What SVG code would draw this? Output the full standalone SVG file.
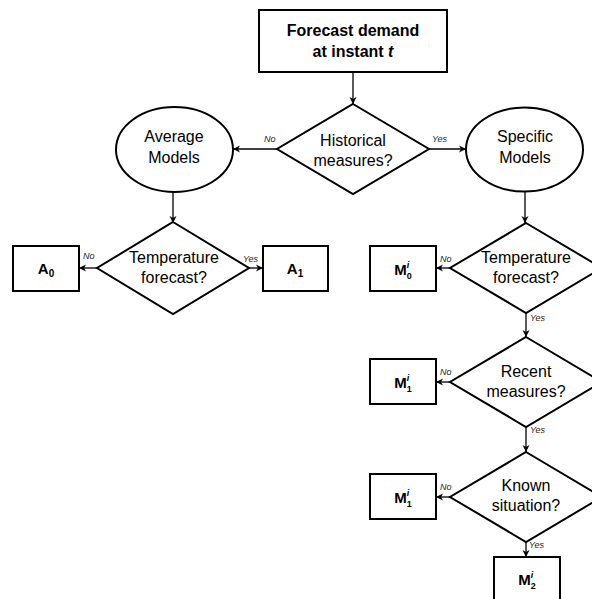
<svg xmlns="http://www.w3.org/2000/svg" width="592" height="599" viewBox="0 0 592 599">
<defs>
<marker id="arr" markerUnits="userSpaceOnUse" markerWidth="8" markerHeight="8" refX="7" refY="4" orient="auto">
<path d="M0,0.5 L7,4 L0,7.5 L2,4 z" fill="#000"/>
</marker>
<style>
.shape{fill:#fff;stroke:#000;stroke-width:2}
.conn{fill:none;stroke:#000;stroke-width:1.3;marker-end:url(#arr)}
.t{font-family:"Liberation Sans",Arial,sans-serif;font-size:16px;fill:#000;text-anchor:middle}
.b{font-family:"Liberation Sans",Arial,sans-serif;font-weight:bold;font-size:15px;fill:#000;text-anchor:middle}
.lbl{font-family:"Liberation Sans",Arial,sans-serif;font-style:italic;font-size:9px;fill:#222}
.sub{font-size:10px}
.s9{font-size:9px}
</style>
</defs>
<rect width="592" height="599" fill="#fff"/>
<g id="connectors">
<line class="conn" x1="353" y1="72" x2="353" y2="104"/>
<line class="conn" x1="277" y1="149" x2="233" y2="149"/>
<line class="conn" x1="429" y1="149" x2="466" y2="149"/>
<line class="conn" x1="173" y1="192" x2="173" y2="223"/>
<line class="conn" x1="97" y1="268" x2="79" y2="268"/>
<line class="conn" x1="249" y1="268" x2="263" y2="268"/>
<line class="conn" x1="525" y1="191" x2="525" y2="223"/>
<line class="conn" x1="450" y1="268" x2="436" y2="268"/>
<line class="conn" x1="526" y1="313" x2="526" y2="337"/>
<line class="conn" x1="450" y1="382" x2="436" y2="382"/>
<line class="conn" x1="526" y1="427" x2="526" y2="452"/>
<line class="conn" x1="450" y1="497" x2="436" y2="497"/>
<line class="conn" x1="526" y1="542" x2="526" y2="557"/>
<text class="lbl" x="264" y="142">No</text>
<text class="lbl" x="432" y="142">Yes</text>
<text class="lbl" x="83" y="259">No</text>
<text class="lbl" x="243" y="262">Yes</text>
<text class="lbl" x="440" y="262">No</text>
<text class="lbl" x="530" y="321">Yes</text>
<text class="lbl" x="440" y="375">No</text>
<text class="lbl" x="530" y="433">Yes</text>
<text class="lbl" x="440" y="490">No</text>
<text class="lbl" x="529" y="548">Yes</text>
</g>
<g id="start">
<rect class="shape" x="259" y="10" width="188" height="62"/>
<text class="b" x="353" y="36" style="font-size:16px">Forecast demand</text>
<text class="b" x="353" y="57" style="font-size:16px">at instant <tspan font-style="italic">t</tspan></text>
</g>
<g id="historical">
<polygon class="shape" points="353,104 429,149 353,194 277,149"/>
<text class="t" x="353" y="146">Historical</text>
<text class="t" x="353" y="166">measures?</text>
</g>
<g id="average">
<ellipse class="shape" cx="174.5" cy="149.5" rx="58.5" ry="42.5"/>
<text class="t" x="174" y="142">Average</text>
<text class="t" x="174" y="163">Models</text>
</g>
<g id="specific">
<ellipse class="shape" cx="524.5" cy="149.5" rx="58.5" ry="42"/>
<text class="t" x="525" y="142">Specific</text>
<text class="t" x="525" y="163">Models</text>
</g>
<g id="tempA">
<polygon class="shape" points="173,222 249,268 173,314 97,268"/>
<text class="t" x="174" y="263">Temperature</text>
<text class="t" x="174" y="283">forecast?</text>
</g>
<g id="A0">
<rect class="shape" x="13" y="246" width="66" height="45"/>
<text class="b" x="46" y="274">A<tspan class="sub" dy="3">0</tspan></text>
</g>
<g id="A1">
<rect class="shape" x="263" y="246" width="65" height="45"/>
<text class="b" x="295" y="274">A<tspan class="sub" dy="3">1</tspan></text>
</g>
<g id="tempS">
<polygon class="shape" points="526,223 602,268 526,313 450,268"/>
<text class="t" x="526" y="263">Temperature</text>
<text class="t" x="526" y="283">forecast?</text>
</g>
<g id="M0">
<rect class="shape" x="370" y="246" width="66" height="45"/>
<text class="b" x="403" y="275">M<tspan class="s9" dy="-7" font-style="italic">i</tspan><tspan class="s9" dx="-2.5" dy="11">0</tspan></text>
</g>
<g id="recent">
<polygon class="shape" points="526,337 602,382 526,427 450,382"/>
<text class="t" x="526" y="377">Recent</text>
<text class="t" x="526" y="397">measures?</text>
</g>
<g id="M1a">
<rect class="shape" x="370" y="359" width="66" height="45"/>
<text class="b" x="403" y="388">M<tspan class="s9" dy="-7" font-style="italic">i</tspan><tspan class="s9" dx="-2.5" dy="11">1</tspan></text>
</g>
<g id="known">
<polygon class="shape" points="526,452 602,497 526,542 450,497"/>
<text class="t" x="526" y="491">Known</text>
<text class="t" x="526" y="511">situation?</text>
</g>
<g id="M1b">
<rect class="shape" x="370" y="474" width="66" height="45"/>
<text class="b" x="403" y="503">M<tspan class="s9" dy="-7" font-style="italic">i</tspan><tspan class="s9" dx="-2.5" dy="11">1</tspan></text>
</g>
<g id="M2">
<rect class="shape" x="494" y="557" width="66" height="50"/>
<text class="b" x="527" y="585">M<tspan class="s9" dy="-7" font-style="italic">i</tspan><tspan class="s9" dx="-2.5" dy="11">2</tspan></text>
</g>
</svg>
